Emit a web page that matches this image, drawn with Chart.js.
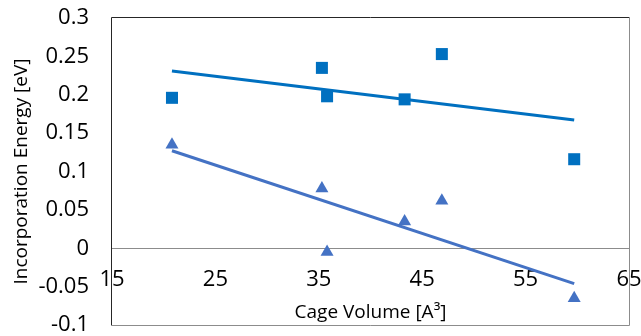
<!DOCTYPE html>
<html>
<head>
<meta charset="utf-8">
<script src="https://cdn.jsdelivr.net/npm/chart.js@4.4.1/dist/chart.umd.min.js"></script>
<style>
html,body{margin:0;padding:0;background:#fff;}
#wrap{width:641px;height:336px;position:relative;}
</style>
</head>
<body>
<div id="wrap"><canvas id="c" width="641" height="336"></canvas></div>
<script>
// Data
const cageVolume = [20.8, 35.3, 35.8, 43.3, 46.9, 59.7];
const energySquare = [0.196, 0.235, 0.198, 0.194, 0.253, 0.116];
const energyTriangle = [0.135, 0.078, -0.005, 0.035, 0.062, -0.065];
// Linear trend line endpoints
const trendX = [20.8, 59.7];
const trendSquare = [0.231, 0.167];
const trendTriangle = [0.127, -0.046];
const xTicks = [15, 25, 35, 45, 55, 65];
const yTicks = [-0.1, -0.05, 0, 0.05, 0.1, 0.15, 0.2, 0.25, 0.3];

const pts = (xs, ys) => xs.map((x, i) => ({x: x, y: ys[i]}));
const FONT = "'Open Sans', 'Liberation Sans', sans-serif";

const frame = {
  id: 'frame',
  afterDraw(chart) {
    const a = chart.chartArea, ctx = chart.ctx;
    ctx.save();
    ctx.lineWidth = 1;
    ctx.strokeStyle = '#8c8c8c';
    ctx.beginPath();
    ctx.moveTo(a.right + 0.5, a.top);
    ctx.lineTo(a.right + 0.5, a.bottom + 0.5);
    ctx.lineTo(a.left, a.bottom + 0.5);
    ctx.stroke();
    ctx.strokeStyle = '#262626';
    ctx.beginPath();
    ctx.moveTo(a.left - 0.5, a.bottom + 0.5);
    ctx.lineTo(a.left - 0.5, a.top - 0.5);
    ctx.lineTo(a.right + 0.5, a.top - 0.5);
    ctx.stroke();
    ctx.restore();
  }
};

new Chart(document.getElementById('c'), {
  type: 'scatter',
  data: {
    datasets: [
      {
        label: 'trendSquare', data: pts(trendX, trendSquare), showLine: true,
        borderColor: '#0070C0', borderWidth: 3, pointRadius: 0, order: 2
      },
      {
        label: 'trendTriangle', data: pts(trendX, trendTriangle), showLine: true,
        borderColor: '#4472C4', borderWidth: 3, pointRadius: 0, order: 2
      },
      {
        label: 'square', data: pts(cageVolume, energySquare), pointStyle: 'rect',
        pointRadius: 8.5, backgroundColor: '#0070C0', borderColor: '#0070C0', borderWidth: 0, order: 1
      },
      {
        label: 'triangle', data: pts(cageVolume, energyTriangle), pointStyle: 'triangle',
        pointRadius: 7.5, backgroundColor: '#4472C4', borderColor: '#4472C4', borderWidth: 0, order: 1
      }
    ]
  },
  options: {
    responsive: false,
    animation: false,
    layout: { padding: { top: 18, right: 12, bottom: 11, left: 0 } },
    plugins: { legend: { display: false }, tooltip: { enabled: false } },
    scales: {
      x: {
        type: 'linear', position: { y: 0 }, min: 15, max: 65,
        afterBuildTicks: (s) => { s.ticks = xTicks.map(v => ({value: v})); },
        afterFit: (s) => { s.paddingLeft = 0; s.paddingRight = 0; s.height -= 11; },
        grid: { display: false, drawTicks: false },
        border: { display: true, color: '#8c8c8c', width: 1 },
        ticks: { color: '#000', font: { family: FONT, size: 22 }, padding: 18, maxRotation: 0 },
        title: { display: true, text: 'Cage Volume [A³]', color: '#000',
                 font: { family: FONT, size: 19 }, padding: { top: 2, bottom: 0 } }
      },
      y: {
        type: 'linear', position: 'left', min: -0.1, max: 0.3,
        afterBuildTicks: (s) => { s.ticks = yTicks.map(v => ({value: v})); },
        afterFit: (s) => { s.width = 112; s.paddingTop = 0; s.paddingBottom = 0; },
        grid: { display: false, drawTicks: false },
        border: { display: false },
        ticks: { color: '#000', font: { family: FONT, size: 22 }, padding: 23,
                 callback: (v) => String(Math.round(v * 100) / 100) },
        title: { display: true, text: 'Incorporation Energy [eV]', color: '#000',
                 font: { family: FONT, size: 19 }, padding: { top: 10, bottom: 0 } }
      }
    }
  },
  plugins: [frame]
});
</script>
</body>
</html>
